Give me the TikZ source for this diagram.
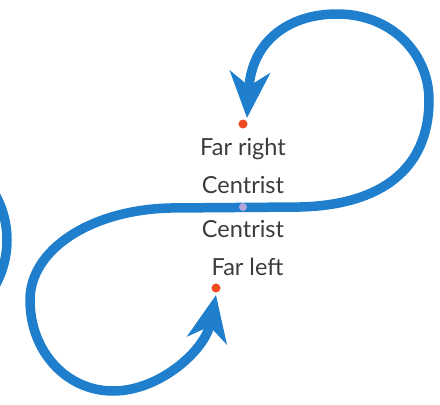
\documentclass[tikz,border=0pt]{standalone}
\usepackage{fontspec}
\setmainfont{Lato}
\usetikzlibrary{arrows.meta,positioning}

\definecolor{loopblue}{HTML}{1F7FCC}
\definecolor{dotred}{HTML}{F04A23}
\definecolor{dotlilac}{HTML}{B4A4DC}
\definecolor{labelgray}{HTML}{3C3C3C}

\tikzstyle{loop} = [line width=9.5pt,loopblue,{Stealth[length=46pt,width=40pt,inset=14pt]}-{Stealth[length=46pt,width=40pt,inset=14pt]}]
\tikzstyle{dot} = [circle,inner sep=0pt,minimum size=9pt]
\tikzstyle{label} = [anchor=base,inner sep=0pt,text=labelgray,font=\fontsize{23.5}{26}\selectfont]

\begin{document}
\begin{tikzpicture}[x=1pt,y=-1pt]
\useasboundingbox (0,0) rectangle (440,405);
\clip (0,0) rectangle (440,405);

% part of the next loop, cut by the edge
\draw [line width=9.5pt,loopblue] (-86,240) circle (93);

\coordinate (tipR) at (247,118);
\coordinate (tipL) at (216,295);

\draw [loop] (tipR) .. controls (252,40) and (290,14) .. (337,14)
  .. controls (393,14) and (429,55) .. (429,100)
  .. controls (429,170) and (380,205) .. (300,207)
  -- (170,208)
  .. controls (90,210) and (30,250) .. (30,300)
  .. controls (30,352) and (67,391) .. (113,391)
  .. controls (160,391) and (205,350) .. (tipL);

\node (right) [dot,fill=dotred] at (243,124) {};
\node (left) [dot,fill=dotred] at (216,288) {};
\node (mid) [dot,fill=dotlilac,minimum size=8pt] at (243,207) {};

\node (farright) [label] at (243,155) {Far right};
\node (centristR) [label] at (243,193) {Centrist};
\node (centristL) [label] at (243,237) {Centrist};
\node (farleft) [label] at (247.5,275) {Far left};

\end{tikzpicture}
\end{document}
